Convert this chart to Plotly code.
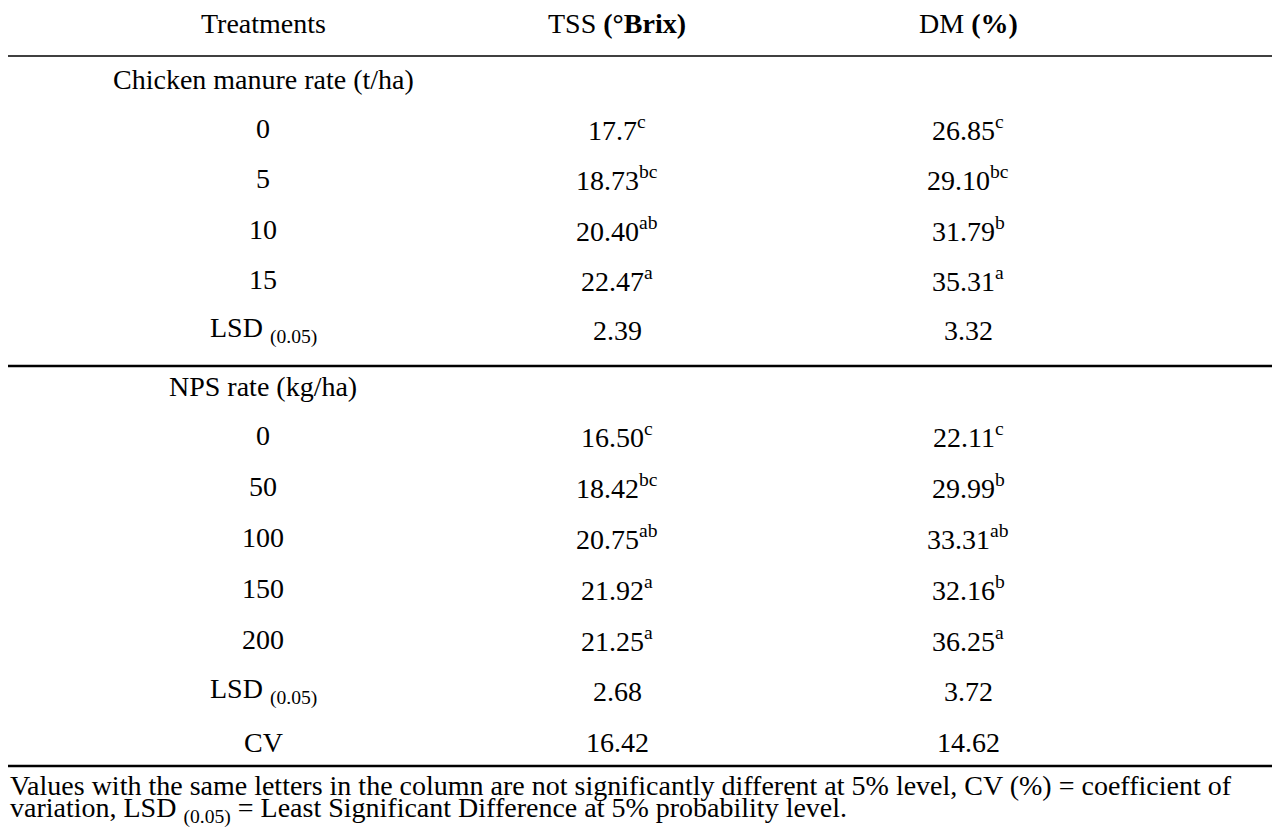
import plotly.graph_objects as go

W, H = 1280, 834
OFF = 8
headers = ["Treatments", "TSS <b>(°Brix)</b>", "DM <b>(%)</b>"]
cm_label = "Chicken manure rate (t/ha)"
cm_treat = ["0", "5", "10", "15", "LSD <sub>(0.05)</sub>"]
cm_tss = ["17.7", "18.73", "20.40", "22.47", "2.39"]
cm_tss_l = ["c", "bc", "ab", "a", ""]
cm_dm = ["26.85", "29.10", "31.79", "35.31", "3.32"]
cm_dm_l = ["c", "bc", "b", "a", ""]
nps_label = "NPS rate (kg/ha)"
nps_treat = ["0", "50", "100", "150", "200", "LSD <sub>(0.05)</sub>", "CV"]
nps_tss = ["16.50", "18.42", "20.75", "21.92", "21.25", "2.68", "16.42"]
nps_tss_l = ["c", "bc", "ab", "a", "a", "", ""]
nps_dm = ["22.11", "29.99", "33.31", "32.16", "36.25", "3.72", "14.62"]
nps_dm_l = ["c", "b", "ab", "b", "a", "", ""]
foot1 = "Values with the same letters in the column are not significantly different at 5% level, CV (%) = coefficient of"
foot2 = "variation, LSD <sub>(0.05)</sub> = Least Significant Difference at 5% probability level."

cols = [263, 617, 968]
font = dict(family="Liberation Serif", size=28, color="black")
ann = []
def txt(x, y, s, anchor="center"):
    ann.append(dict(x=(x - OFF) / W, y=1 - (y - OFF) / H, xref="paper", yref="paper", text=s,
                    showarrow=False, xanchor=anchor, yanchor="middle", font=font))
def cell(v, l):
    return v + (f"<sup>{l}</sup>" if l else "")

for c, h in zip(cols, headers):
    txt(c, 24, h)
txt(cols[0], 79, cm_label)
y = 128
for t, a, al, d, dl in zip(cm_treat, cm_tss, cm_tss_l, cm_dm, cm_dm_l):
    txt(cols[0], y, t); txt(cols[1], y, cell(a, al)); txt(cols[2], y, cell(d, dl))
    y += 50.5
txt(cols[0], 386, nps_label)
y = 435
for t, a, al, d, dl in zip(nps_treat, nps_tss, nps_tss_l, nps_dm, nps_dm_l):
    txt(cols[0], y, t); txt(cols[1], y, cell(a, al)); txt(cols[2], y, cell(d, dl))
    y += 51.2
txt(OFF, 785, foot1, "left")
txt(OFF, 810, foot2, "left")

shapes = []
for yy, w in [(5, 2.5), (56, 1.5), (366, 2.5), (766, 2.5)]:
    shapes.append(dict(type="line", xref="paper", yref="paper", x0=0, x1=(1276 - OFF) / W,
                       y0=1 - (yy - OFF) / H, y1=1 - (yy - OFF) / H,
                       line=dict(color="black", width=w)))

fig = go.Figure()
fig.update_layout(width=W, height=H, margin=dict(l=0, r=0, t=0, b=0),
                  paper_bgcolor="white", plot_bgcolor="white",
                  xaxis=dict(visible=False), yaxis=dict(visible=False),
                  annotations=ann, shapes=shapes)
fig.write_html("out.html")
